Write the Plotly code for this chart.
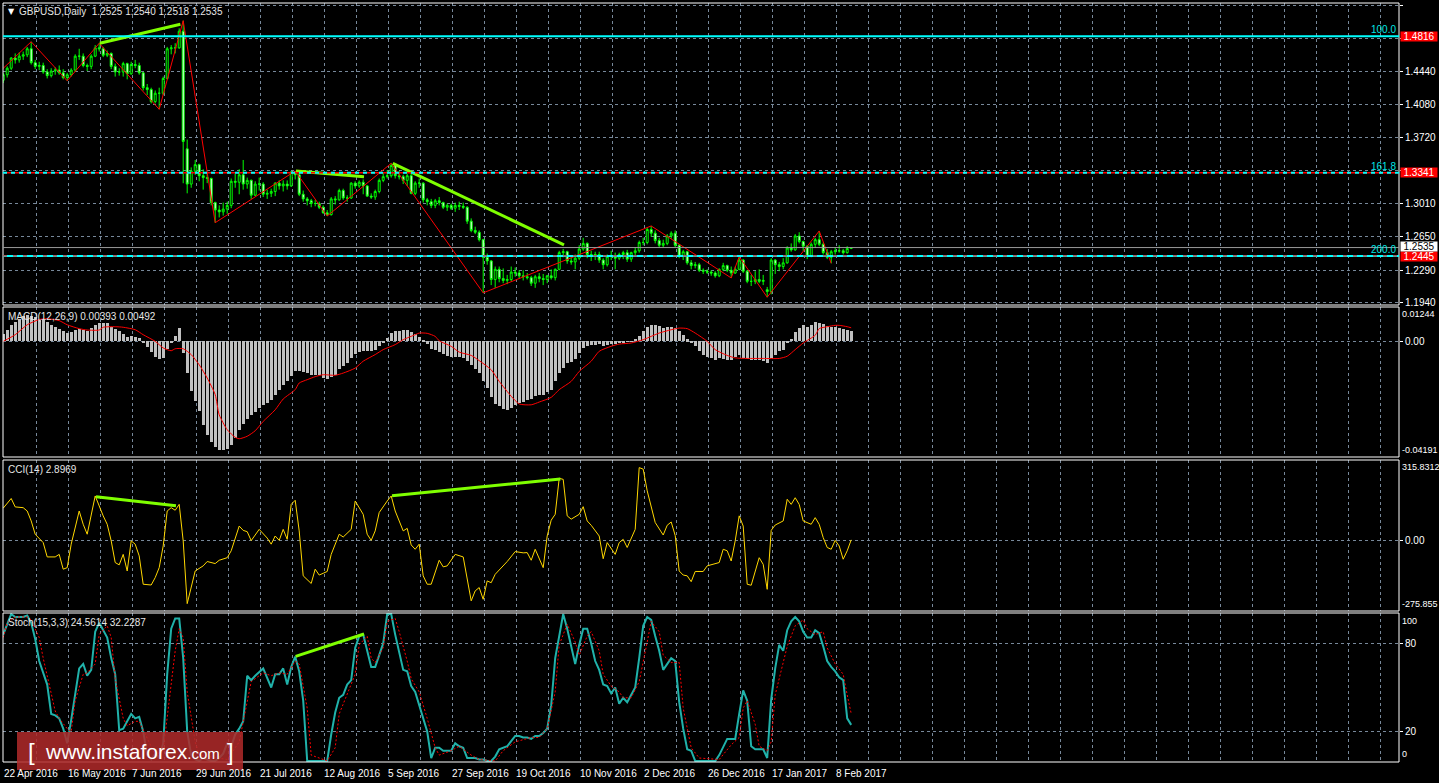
import plotly.graph_objects as go

# ------------------------------------------------------------------ data
date_labels = ["22 Apr 2016", "16 May 2016", "7 Jun 2016", "29 Jun 2016", "21 Jul 2016",
               "12 Aug 2016", "5 Sep 2016", "27 Sep 2016", "19 Oct 2016", "10 Nov 2016",
               "2 Dec 2016", "26 Dec 2016", "17 Jan 2017", "8 Feb 2017"]
date_label_bars = [0, 16, 32, 48, 64, 80, 96, 112, 128, 144, 160, 176, 192, 208]

opens = [1.4340,1.4400,1.4470,1.4580,1.4560,1.4600,1.4615,1.4680,1.4530,1.4490,
         1.4500,1.4430,1.4390,1.4440,1.4450,1.4420,1.4370,1.4400,1.4450,1.4600,
         1.4600,1.4500,1.4490,1.4600,1.4690,1.4680,1.4610,1.4630,1.4490,1.4430,
         1.4430,1.4520,1.4410,1.4510,1.4500,1.4420,1.4260,1.4240,1.4110,1.4200,
         1.4200,1.4360,1.4680,1.4690,1.4690,1.4870,1.3600,1.3220,1.3360,1.3430,
         1.3310,1.3290,1.3280,1.3020,1.2940,1.2920,1.2950,1.2990,1.3250,1.3240,
         1.3320,1.3220,1.3260,1.3100,1.3220,1.3220,1.3110,1.3120,1.3140,1.3230,
         1.3200,1.3220,1.3200,1.3350,1.3320,1.3110,1.3060,1.3040,1.3010,1.3010,
         1.2970,1.2910,1.2890,1.3060,1.3050,1.3150,1.3070,1.3070,1.3230,1.3200,
         1.3240,1.3200,1.3090,1.3080,1.3140,1.3260,1.3300,1.3310,1.3420,1.3310,
         1.3300,1.3260,1.3310,1.3120,1.3230,1.3230,1.3050,1.3030,1.2990,1.3040,
         1.3020,1.2970,1.2990,1.2960,1.2990,1.2980,1.2970,1.2820,1.2720,1.2700,
         1.2620,1.2430,1.2390,1.2190,1.2300,1.2200,1.2180,1.2190,1.2270,1.2260,
         1.2230,1.2220,1.2210,1.2150,1.2220,1.2200,1.2190,1.2230,1.2210,1.2300,
         1.2480,1.2490,1.2390,1.2380,1.2420,1.2520,1.2580,1.2460,1.2450,1.2460,
         1.2400,1.2350,1.2440,1.2450,1.2420,1.2460,1.2480,1.2410,1.2480,1.2500,
         1.2590,1.2590,1.2730,1.2690,1.2610,1.2560,1.2580,1.2660,1.2690,1.2560,
         1.2440,1.2490,1.2370,1.2340,1.2350,1.2290,1.2280,1.2270,1.2260,1.2230,
         1.2300,1.2340,1.2290,1.2260,1.2300,1.2400,1.2280,1.2170,1.2170,1.2190,
         1.2170,1.2080,1.2060,1.2400,1.2350,1.2330,1.2370,1.2530,1.2510,1.2660,
         1.2600,1.2550,1.2440,1.2570,1.2620,1.2570,1.2480,1.2430,1.2490,1.2500,
         1.2500,1.2480,1.2525]
highs = [1.4420,1.4490,1.4590,1.4630,1.4640,1.4650,1.4700,1.4756,1.4560,1.4540,
         1.4530,1.4460,1.4470,1.4480,1.4500,1.4460,1.4420,1.4470,1.4620,1.4680,
         1.4630,1.4520,1.4620,1.4720,1.4739,1.4700,1.4660,1.4640,1.4520,1.4470,
         1.4540,1.4530,1.4540,1.4560,1.4530,1.4430,1.4300,1.4260,1.4230,1.4260,
         1.4380,1.4700,1.4720,1.4740,1.4900,1.4983,1.3700,1.3400,1.3480,1.3440,
         1.3380,1.3340,1.3290,1.3030,1.2990,1.3020,1.3030,1.3280,1.3330,1.3380,
         1.3480,1.3290,1.3270,1.3250,1.3290,1.3240,1.3160,1.3170,1.3240,1.3260,
         1.3260,1.3260,1.3361,1.3360,1.3340,1.3150,1.3080,1.3060,1.3050,1.3030,
         1.2990,1.2940,1.3080,1.3090,1.3170,1.3170,1.3100,1.3240,1.3250,1.3260,
         1.3270,1.3210,1.3120,1.3160,1.3280,1.3340,1.3370,1.3444,1.3430,1.3360,
         1.3320,1.3330,1.3330,1.3250,1.3280,1.3240,1.3070,1.3060,1.3060,1.3080,
         1.3030,1.3010,1.3010,1.3020,1.3030,1.3020,1.2980,1.2850,1.2760,1.2720,
         1.2630,1.2470,1.2400,1.2330,1.2330,1.2310,1.2240,1.2330,1.2320,1.2290,
         1.2290,1.2260,1.2230,1.2240,1.2260,1.2250,1.2240,1.2300,1.2310,1.2500,
         1.2520,1.2500,1.2440,1.2460,1.2560,1.2640,1.2590,1.2500,1.2490,1.2490,
         1.2420,1.2460,1.2500,1.2480,1.2480,1.2500,1.2510,1.2490,1.2540,1.2610,
         1.2640,1.2750,1.2768,1.2720,1.2640,1.2620,1.2680,1.2710,1.2720,1.2570,
         1.2510,1.2500,1.2400,1.2380,1.2370,1.2310,1.2300,1.2290,1.2280,1.2310,
         1.2370,1.2350,1.2330,1.2330,1.2436,1.2410,1.2290,1.2240,1.2280,1.2300,
         1.2240,1.2110,1.2420,1.2410,1.2380,1.2420,1.2550,1.2580,1.2680,1.2700,
         1.2610,1.2560,1.2590,1.2640,1.2714,1.2590,1.2520,1.2510,1.2540,1.2560,
         1.2520,1.2550,1.2540]
lows = [1.4310,1.4370,1.4450,1.4520,1.4530,1.4560,1.4590,1.4510,1.4460,1.4450,
        1.4410,1.4360,1.4370,1.4400,1.4400,1.4350,1.4335,1.4380,1.4430,1.4560,
        1.4480,1.4440,1.4460,1.4590,1.4650,1.4590,1.4590,1.4460,1.4380,1.4390,
        1.4380,1.4350,1.4400,1.4470,1.4400,1.4230,1.4180,1.4090,1.4090,1.4027,
        1.4180,1.4350,1.4620,1.4630,1.4680,1.3229,1.3120,1.3180,1.3320,1.3250,
        1.3160,1.3230,1.2990,1.2803,1.2860,1.2880,1.2900,1.2960,1.3180,1.3110,
        1.3160,1.3170,1.3060,1.3090,1.3150,1.3080,1.3060,1.3080,1.3090,1.3160,
        1.3140,1.3160,1.3190,1.3270,1.3090,1.3030,1.2990,1.2970,1.2980,1.2950,
        1.2900,1.2875,1.2880,1.3000,1.3040,1.3050,1.3030,1.3060,1.3170,1.3180,
        1.3110,1.3080,1.3060,1.3050,1.3120,1.3240,1.3280,1.3290,1.3280,1.3270,
        1.3220,1.3200,1.3110,1.3100,1.3180,1.3020,1.2990,1.2960,1.2960,1.2990,
        1.2950,1.2930,1.2940,1.2920,1.2940,1.2950,1.2790,1.2700,1.2680,1.2600,
        1.2046,1.2350,1.2130,1.2100,1.2160,1.2150,1.2140,1.2170,1.2220,1.2200,
        1.2180,1.2190,1.2120,1.2100,1.2160,1.2130,1.2150,1.2190,1.2180,1.2290,
        1.2430,1.2360,1.2350,1.2300,1.2400,1.2500,1.2420,1.2390,1.2400,1.2370,
        1.2300,1.2330,1.2400,1.2300,1.2400,1.2410,1.2380,1.2380,1.2440,1.2480,
        1.2560,1.2570,1.2650,1.2580,1.2540,1.2540,1.2560,1.2630,1.2540,1.2420,
        1.2400,1.2350,1.2300,1.2310,1.2270,1.2250,1.2250,1.2230,1.2210,1.2215,
        1.2280,1.2270,1.2207,1.2250,1.2290,1.2260,1.2150,1.2120,1.2140,1.2150,
        1.2130,1.1999,1.2030,1.2250,1.2280,1.2300,1.2360,1.2490,1.2500,1.2580,
        1.2500,1.2410,1.2430,1.2530,1.2550,1.2460,1.2410,1.2365,1.2460,1.2480,
        1.2460,1.2470,1.2518]
closes = [1.4400,1.4470,1.4580,1.4560,1.4600,1.4615,1.4680,1.4530,1.4490,1.4500,
          1.4430,1.4390,1.4440,1.4450,1.4420,1.4370,1.4400,1.4450,1.4600,1.4600,
          1.4500,1.4490,1.4600,1.4690,1.4680,1.4610,1.4630,1.4490,1.4430,1.4430,
          1.4520,1.4410,1.4510,1.4500,1.4420,1.4260,1.4240,1.4110,1.4200,1.4200,
          1.4360,1.4680,1.4690,1.4690,1.4870,1.3680,1.3220,1.3360,1.3430,1.3310,
          1.3290,1.3280,1.3020,1.2940,1.2920,1.2950,1.2990,1.3250,1.3240,1.3320,
          1.3220,1.3260,1.3100,1.3220,1.3220,1.3110,1.3120,1.3140,1.3230,1.3200,
          1.3220,1.3200,1.3350,1.3320,1.3110,1.3060,1.3040,1.3010,1.3010,1.2970,
          1.2910,1.2890,1.3060,1.3050,1.3150,1.3070,1.3070,1.3230,1.3200,1.3240,
          1.3200,1.3090,1.3080,1.3140,1.3260,1.3300,1.3310,1.3420,1.3310,1.3300,
          1.3260,1.3310,1.3120,1.3230,1.3230,1.3050,1.3030,1.2990,1.3040,1.3020,
          1.2970,1.2990,1.2960,1.2990,1.2980,1.2970,1.2820,1.2720,1.2700,1.2620,
          1.2430,1.2390,1.2190,1.2300,1.2200,1.2180,1.2190,1.2270,1.2260,1.2230,
          1.2220,1.2210,1.2150,1.2220,1.2200,1.2190,1.2230,1.2210,1.2300,1.2480,
          1.2490,1.2390,1.2380,1.2420,1.2520,1.2580,1.2460,1.2450,1.2460,1.2400,
          1.2350,1.2440,1.2450,1.2420,1.2460,1.2480,1.2410,1.2480,1.2500,1.2590,
          1.2590,1.2730,1.2690,1.2610,1.2560,1.2580,1.2660,1.2690,1.2560,1.2440,
          1.2490,1.2370,1.2340,1.2350,1.2290,1.2280,1.2270,1.2260,1.2230,1.2300,
          1.2340,1.2290,1.2260,1.2300,1.2400,1.2280,1.2170,1.2170,1.2190,1.2170,
          1.2180,1.2060,1.2400,1.2350,1.2330,1.2370,1.2530,1.2510,1.2660,1.2600,
          1.2550,1.2440,1.2570,1.2620,1.2570,1.2480,1.2430,1.2490,1.2500,1.2500,
          1.2480,1.2525,1.2535]
bars = list(range(len(closes)))

zigzag_bars = [0, 7, 16, 24, 39, 45, 53, 73, 81, 97, 120, 162, 182, 184, 191, 204, 207]
zigzag_prices = [1.4469, 1.4756, 1.4335, 1.4739, 1.4027, 1.4983, 1.2803, 1.3361, 1.2875,
                 1.3444, 1.2046, 1.2768, 1.2207, 1.2436, 1.1999, 1.2714, 1.2365]

fib_levels = [1.4816, 1.3341, 1.2445]
fib_names = ["100.0", "161.8", "200.0"]
fib_price_text = ["1.4816", "1.3341", "1.2445"]
bid_price = 1.2535
bid_text = "1.2535"

price_ticks = [1.5150, 1.4795, 1.4440, 1.4080, 1.3720, 1.3365, 1.3010, 1.2650, 1.2290, 1.1940]
price_tick_text = ["1.5150", "", "1.4440", "1.4080", "1.3720", "", "1.3010", "1.2650", "1.2290", "1.1940"]

price_trend_x = [[24.15, 44.3], [73.2, 90.2], [97.4, 140.2]]
price_trend_y = [[1.4739, 1.4944], [1.3361, 1.3300], [1.3444, 1.2563]]

macd_hist = [0.0027,0.0042,0.0058,0.0070,0.0082,0.0091,0.0094,0.0091,0.0087,0.0082,
             0.0077,0.0070,0.0060,0.0053,0.0046,0.0039,0.0031,0.0034,0.0041,0.0043,
             0.0041,0.0039,0.0048,0.0060,0.0065,0.0068,0.0065,0.0053,0.0046,0.0036,
             0.0027,0.0014,0.0019,0.0017,0.0012,-0.0007,-0.0019,-0.0039,-0.0056,-0.0065,
             -0.0060,-0.0027,-0.0005,0.0019,0.0048,-0.0042,-0.0115,-0.0181,-0.0217,-0.0254,
             -0.0302,-0.0338,-0.0365,-0.0384,-0.0393,-0.0393,-0.0389,-0.0374,-0.0350,-0.0320,
             -0.0300,-0.0280,-0.0268,-0.0256,-0.0242,-0.0230,-0.0223,-0.0211,-0.0196,-0.0176,
             -0.0159,-0.0145,-0.0126,-0.0106,-0.0109,-0.0111,-0.0115,-0.0121,-0.0123,-0.0123,
             -0.0133,-0.0135,-0.0128,-0.0121,-0.0101,-0.0091,-0.0077,-0.0060,-0.0046,-0.0039,
             -0.0036,-0.0036,-0.0036,-0.0031,-0.0016,-0.0003,0.0012,0.0031,0.0039,0.0039,
             0.0040,0.0041,0.0034,0.0027,0.0014,0.0002,-0.0010,-0.0027,-0.0033,-0.0039,
             -0.0046,-0.0054,-0.0056,-0.0056,-0.0058,-0.0060,-0.0072,-0.0085,-0.0099,-0.0116,
             -0.0143,-0.0169,-0.0203,-0.0227,-0.0236,-0.0244,-0.0248,-0.0242,-0.0230,-0.0223,
             -0.0220,-0.0211,-0.0208,-0.0199,-0.0193,-0.0193,-0.0184,-0.0175,-0.0145,-0.0115,
             -0.0097,-0.0079,-0.0075,-0.0063,-0.0042,-0.0024,-0.0018,-0.0012,-0.0012,-0.0010,
             -0.0016,-0.0012,-0.0010,-0.0010,-0.0006,-0.0006,-0.0002,-0.0002,0.0010,0.0018,
             0.0039,0.0051,0.0058,0.0058,0.0054,0.0048,0.0053,0.0053,0.0048,0.0036,
             0.0022,0.0007,-0.0006,-0.0018,-0.0034,-0.0048,-0.0056,-0.0060,-0.0068,-0.0060,
             -0.0063,-0.0066,-0.0068,-0.0058,-0.0051,-0.0060,-0.0063,-0.0066,-0.0066,-0.0066,
             -0.0070,-0.0080,-0.0060,-0.0051,-0.0036,-0.0030,-0.0007,0.0010,0.0034,0.0048,
             0.0058,0.0051,0.0060,0.0070,0.0066,0.0063,0.0056,0.0053,0.0053,0.0048,
             0.0046,0.0042,0.0039]
macd_signal_bars = [0,3,6,9,11,14,16,19,21,24,25,28,30,33,35,38,40,42,43,45,47,49,51,53,54,
                    56,58,59,61,63,65,68,70,73,74,76,78,80,83,85,88,90,93,95,98,100,103,104,
                    106,108,109,112,114,117,119,122,124,127,129,132,134,137,139,142,144,147,
                    149,152,154,157,160,162,164,167,169,171,173,176,178,181,183,186,190,194,
                    196,198,200,203,204,206,208,209,211,212]
macd_signal = [0.0000,0.0024,0.0060,0.0079,0.0082,0.0075,0.0060,0.0046,0.0041,0.0041,0.0051,
               0.0053,0.0051,0.0042,0.0024,0.0000,-0.0024,-0.0034,-0.0027,-0.0027,-0.0048,
               -0.0085,-0.0133,-0.0193,-0.0266,-0.0320,-0.0348,-0.0353,-0.0344,-0.0324,-0.0290,
               -0.0248,-0.0209,-0.0175,-0.0151,-0.0139,-0.0128,-0.0121,-0.0123,-0.0115,-0.0097,
               -0.0072,-0.0048,-0.0030,-0.0012,0.0006,0.0024,0.0030,0.0029,0.0018,0.0002,
               -0.0018,-0.0039,-0.0051,-0.0070,-0.0103,-0.0145,-0.0199,-0.0227,-0.0230,-0.0220,
               -0.0203,-0.0175,-0.0145,-0.0109,-0.0072,-0.0036,-0.0018,-0.0010,-0.0006,0.0006,
               0.0018,0.0030,0.0042,0.0048,0.0046,0.0030,0.0000,-0.0030,-0.0051,-0.0060,
               -0.0062,-0.0062,-0.0062,-0.0054,-0.0030,-0.0006,0.0022,0.0046,0.0053,0.0058,
               0.0058,0.0053,0.0049]

cci_bars = [0,2,3,5,6,7,8,10,11,13,14,15,16,17,19,20,21,23,25,26,27,28,29,30,31,32,33,34,35,37,
            38,39,40,41,42,43,44,45,46,47,48,50,51,53,54,56,57,59,60,61,62,64,65,66,67,68,69,70,
            71,72,73,74,75,77,78,79,80,81,82,84,85,87,88,90,91,92,93,94,96,97,98,100,101,102,103,
            104,105,106,107,108,109,110,111,113,115,117,118,119,120,121,122,123,125,126,128,130,
            131,132,133,135,136,137,138,139,140,141,142,144,145,146,147,148,149,150,151,153,154,
            155,156,158,159,160,161,163,165,166,167,168,169,170,171,172,173,175,176,179,180,181,
            182,183,184,185,186,187,189,190,191,192,193,195,196,197,198,199,200,202,203,204,205,
            206,207,208,209,210,211,212]
cci = [127,165,132,129,116,77,25,-8,-64,-64,-54,-112,-106,-14,116,64,25,175,97,64,-1,-86,-95,-54,
       -119,-1,-14,-60,-171,-174,-145,-106,-21,116,129,119,142,-1,-247,-178,-119,-99,-82,-90,-77,
       -67,-40,57,40,35,0,44,25,10,-14,18,1,44,5,142,158,38,-138,-168,-112,-135,-128,-121,-54,25,
       14,44,155,103,25,1,38,110,155,175,116,38,48,-17,-34,-14,-138,-171,-171,-119,-77,-103,-99,
       -54,-64,-236,-197,-184,-230,-158,-165,-132,-99,-82,-43,-48,-47,-77,-34,-106,18,80,103,244,
       240,97,84,103,133,77,60,40,18,-71,-8,-54,-8,5,-27,44,286,280,195,71,22,60,73,20,-119,-135,
       -138,-161,-121,-121,-99,-86,-34,-40,-80,-1,97,57,-171,-175,-67,-93,-191,40,61,77,162,142,
       168,142,77,64,90,64,12,-27,-34,1,-21,-73,-40,2.8969]
cci_trend_x = [[23.2, 43.2], [97.2, 139.3]]
cci_trend_y = [[172, 137], [176, 241]]

stoch_k_bars = [0,2,3,5,6,7,8,9,11,12,13,14,15,16,17,19,20,21,22,23,24,25,26,27,28,29,30,31,32,33,
                34,35,36,37,38,39,40,41,42,43,44,45,46,47,48,49,50,51,52,53,54,55,56,57,58,59,60,
                61,62,63,65,67,68,69,70,71,72,73,74,75,76,77,78,79,80,81,82,83,84,85,86,87,88,89,
                90,91,92,93,94,95,96,97,98,99,100,101,102,103,104,105,106,107,108,109,110,111,112,
                113,114,115,116,117,118,119,120,121,122,123,124,126,128,129,130,131,132,133,134,
                135,136,137,138,139,140,141,142,143,144,145,146,147,148,149,150,151,152,153,154,
                155,156,157,158,159,160,161,162,163,164,165,166,167,168,169,170,171,172,173,174,
                175,176,177,178,179,180,181,182,183,184,185,186,187,188,189,190,191,192,193,194,
                195,196,197,198,199,200,201,202,203,204,205,206,207,208,209,210,211,212]
stoch_k = [86,100,98,98,99,94,83,68,52,32,31,29,22,12,28,63,66,58,62,88,94,89,84,70,59,21,22,27,
           32,29,30,20,4,1,5,2,12,59,90,97,97,70,20,4,1,0,2,1,0,0,2,5,12,10,18,22,27,58,55,58,63,
           50,59,59,63,52,64,71,61,41,0,0,0,0,0,0,18,33,43,45,52,55,77,85,86,75,64,64,72,80,100,
           100,86,75,62,61,51,47,38,28,20,2,9,9,7,7,7,12,10,9,2,2,2,1,1,0,0,3,8,10,17,17,16,16,15,
           17,17,19,22,38,70,85,100,90,78,66,79,90,90,80,68,62,52,51,46,50,39,43,40,45,50,70,92,
           98,96,85,75,62,66,70,68,40,22,8,7,0,0,0,0,0,0,4,10,15,15,15,32,48,41,10,8,8,8,2,42,63,
           79,75,89,95,98,95,88,84,84,89,87,78,68,64,61,57,55,29,24.5614]
stoch_d_bars = [0,1,3,6,7,9,10,12,13,14,16,17,18,20,21,23,24,26,27,28,30,31,33,34,36,38,40,41,43,
                44,45,46,48,49,56,59,61,62,65,67,69,71,73,74,76,77,81,83,84,86,88,89,91,92,93,95,
                96,98,99,101,102,104,106,108,109,112,114,117,119,123,125,128,132,134,136,138,139,
                141,143,144,146,147,149,150,152,154,155,157,159,161,162,164,165,167,169,170,172,
                174,179,182,184,185,186,188,189,191,192,193,195,196,198,200,201,203,205,206,208,
                210,211,212]
stoch_d = [84,94,98,98,96,84,70,45,34,29,22,20,41,59,60,66,86,92,84,56,29,24,27,27,16,4,7,29,75,
           90,84,47,13,4,1,13,41,54,60,58,60,59,68,66,36,4,0,9,32,45,59,79,85,70,67,77,95,97,88,
           68,56,47,29,9,4,7,10,4,1,0,7,13,16,16,22,47,79,93,81,72,85,88,75,59,51,47,43,43,54,81,
           95,88,72,67,67,36,9,2,1,11,16,36,41,25,10,7,13,45,66,78,92,96,90,86,88,77,66,59,45,
           32.2287]
stoch_trend_x = [[73.1, 90.2]]
stoch_trend_y = [[71.2, 86.4]]

# ------------------------------------------------------------------ geometry / style
W, H = 1439, 783
ML, MR, MT, MB = 3, 40, 3, 21
PW, PH = W - ML - MR, H - MT - MB
BOTTOM = H - MB


def px_x(xp):
    return (xp - ML) / PW


def px_y(yp):
    return (BOTTOM - yp) / PH


panels = {"y": (3, 305), "y2": (307, 457), "y3": (460, 611), "y4": (613, 762)}
GRID = "#77889a"
LIME = "#00FF00"
TREND = "#7FFF00"
CYAN = "#00FFFF"
FONT = "Liberation Sans"
XR = [-0.05, 348.95]
grid_x = [8 * k + 0.25 for k in range(1, 44)]

fig = go.Figure()

# price panel
fig.add_trace(go.Candlestick(
    x=bars, open=opens, high=highs, low=lows, close=closes,
    increasing=dict(line=dict(color=LIME, width=1), fillcolor="#000000"),
    decreasing=dict(line=dict(color=LIME, width=1), fillcolor="#FFFFFF"),
    whiskerwidth=0, hoverinfo="skip", showlegend=False, xaxis="x", yaxis="y"))
fig.add_trace(go.Scatter(x=zigzag_bars, y=zigzag_prices, mode="lines",
                         line=dict(color="#FF0000", width=1), hoverinfo="skip",
                         showlegend=False, xaxis="x", yaxis="y"))
for tx, ty in zip(price_trend_x, price_trend_y):
    fig.add_trace(go.Scatter(x=tx, y=ty, mode="lines", line=dict(color=TREND, width=3),
                             hoverinfo="skip", showlegend=False, xaxis="x", yaxis="y"))

# MACD panel
fig.add_trace(go.Bar(x=bars, y=macd_hist, width=0.72, marker=dict(color="#C0C0C0", line=dict(width=0)),
                     hoverinfo="skip", showlegend=False, xaxis="x2", yaxis="y2"))
fig.add_trace(go.Scatter(x=macd_signal_bars, y=macd_signal, mode="lines",
                         line=dict(color="#FF0000", width=1, shape="spline", smoothing=0.6),
                         hoverinfo="skip", showlegend=False, xaxis="x2", yaxis="y2"))

# CCI panel
fig.add_trace(go.Scatter(x=cci_bars, y=cci, mode="lines", line=dict(color="#FFD700", width=1),
                         hoverinfo="skip", showlegend=False, xaxis="x3", yaxis="y3"))
for tx, ty in zip(cci_trend_x, cci_trend_y):
    fig.add_trace(go.Scatter(x=tx, y=ty, mode="lines", line=dict(color=TREND, width=3),
                             hoverinfo="skip", showlegend=False, xaxis="x3", yaxis="y3"))

# Stochastic panel
fig.add_trace(go.Scatter(x=stoch_k_bars, y=stoch_k, mode="lines", line=dict(color="#20B2AA", width=2),
                         hoverinfo="skip", showlegend=False, xaxis="x4", yaxis="y4"))
fig.add_trace(go.Scatter(x=stoch_d_bars, y=stoch_d, mode="lines",
                         line=dict(color="#FF0000", width=1, dash="2px,2px"),
                         hoverinfo="skip", showlegend=False, xaxis="x4", yaxis="y4"))
for tx, ty in zip(stoch_trend_x, stoch_trend_y):
    fig.add_trace(go.Scatter(x=tx, y=ty, mode="lines", line=dict(color=TREND, width=3),
                             hoverinfo="skip", showlegend=False, xaxis="x4", yaxis="y4"))

# ------------------------------------------------------------------ axes
tickfont = dict(family=FONT, size=10, color="#FFFFFF")
edgefont = dict(family=FONT, size=9, color="#FFFFFF")
layout_axes = {}
names = ["y", "y2", "y3", "y4"]
for n, yn in enumerate(names):
    xk = "xaxis" if n == 0 else f"xaxis{n + 1}"
    layout_axes[xk] = dict(
        domain=[0, 1], range=XR, anchor=yn, tickmode="array", tickvals=grid_x,
        showticklabels=False, ticks="", showgrid=True, gridcolor=GRID, griddash="3px,3px",
        gridwidth=1, zeroline=False, showline=False, fixedrange=True,
        rangeslider=dict(visible=False))
    if n > 0:
        layout_axes[xk]["matches"] = "x"

y_specs = {
    "y": dict(range=[1.1915, 1.5174], tickvals=price_ticks, ticktext=price_tick_text),
    "y2": dict(range=[-0.04191, 0.01244], tickvals=[0], ticktext=["0.00"]),
    "y3": dict(range=[-275.855, 315.8312], tickvals=[0], ticktext=["0.00"]),
    "y4": dict(range=[-0.7, 100.7], tickvals=[20, 80], ticktext=["20", "80"]),
}
for n, yn in enumerate(names):
    yk = "yaxis" if n == 0 else f"yaxis{n + 1}"
    top, bot = panels[yn]
    xa = "x" if n == 0 else f"x{n + 1}"
    spec = y_specs[yn]
    layout_axes[yk] = dict(
        domain=[px_y(bot), px_y(top)], range=spec["range"], anchor=xa, side="right",
        tickmode="array", tickvals=spec["tickvals"], ticktext=spec["ticktext"],
        showgrid=True, gridcolor=GRID, griddash="3px,3px", gridwidth=1,
        ticks="outside", ticklen=3, tickcolor="#FFFFFF", tickfont=tickfont,
        zeroline=False, showline=False, fixedrange=True)

# ------------------------------------------------------------------ shapes
shapes = []
for yn in names:
    top, bot = panels[yn]
    shapes.append(dict(type="rect", xref="paper", yref="paper", x0=0, x1=1,
                       y0=px_y(bot), y1=px_y(top), line=dict(color="#FFFFFF", width=1),
                       fillcolor="rgba(0,0,0,0)", layer="above"))
# bid line
shapes.append(dict(type="line", xref="x domain", yref="y", x0=0, x1=1, y0=bid_price, y1=bid_price,
                   line=dict(color="#9A9A9A", width=1), layer="above"))
# fibo expansion levels
shapes.append(dict(type="line", xref="x domain", yref="y", x0=0, x1=1, y0=fib_levels[0], y1=fib_levels[0],
                   line=dict(color=CYAN, width=2), layer="above"))
shapes.append(dict(type="line", xref="x domain", yref="y", x0=0, x1=1, y0=fib_levels[1], y1=fib_levels[1],
                   line=dict(color="#FF0000", width=1.5), layer="above"))
shapes.append(dict(type="line", xref="x domain", yref="y", x0=0, x1=1, y0=fib_levels[1], y1=fib_levels[1],
                   line=dict(color=CYAN, width=2, dash="4px,4px"), layer="above"))
shapes.append(dict(type="line", xref="x domain", yref="y", x0=0, x1=1, y0=fib_levels[2], y1=fib_levels[2],
                   line=dict(color=CYAN, width=2), layer="above"))
shapes.append(dict(type="line", xref="x domain", yref="y", x0=0, x1=1, y0=fib_levels[2], y1=fib_levels[2],
                   line=dict(color="#FF0000", width=1, dash="4px,6px"), layer="above"))
# watermark box
shapes.append(dict(type="rect", xref="paper", yref="paper", x0=px_x(17), x1=px_x(243),
                   y0=px_y(770), y1=px_y(732), line=dict(width=0),
                   fillcolor="rgba(176,42,42,0.86)", layer="above"))

# ------------------------------------------------------------------ annotations
ann = []
lab_font = dict(family=FONT, size=10, color="#E6E6E6")
# header
ann.append(dict(xref="paper", yref="paper", x=px_x(6), y=px_y(5), xanchor="left", yanchor="top",
                text="▼", showarrow=False, font=dict(family="DejaVu Sans", size=8, color="#FFFFFF")))
ann.append(dict(xref="paper", yref="paper", x=px_x(17), y=px_y(4), xanchor="left", yanchor="top",
                text="GBPUSD,Daily  1.2525 1.2540 1.2518 1.2535", showarrow=False, font=lab_font))
ann.append(dict(xref="paper", yref="paper", x=px_x(6), y=px_y(309), xanchor="left", yanchor="top",
                text="MACD(12,26,9) 0.00393 0.00492", showarrow=False, font=lab_font))
ann.append(dict(xref="paper", yref="paper", x=px_x(6), y=px_y(462), xanchor="left", yanchor="top",
                text="CCI(14) 2.8969", showarrow=False, font=lab_font))
ann.append(dict(xref="paper", yref="paper", x=px_x(6), y=px_y(615), xanchor="left", yanchor="top",
                text="Stoch(15,3,3) 24.5614 32.2287", showarrow=False, font=lab_font))

# edge scale labels
edge = [("y2", 0.01244, "0.01244", "top"), ("y2", -0.04191, "-0.04191", "bottom"),
        ("y3", 315.8312, "315.8312", "top"), ("y3", -275.855, "-275.855", "bottom"),
        ("y4", 100, "100", "top"), ("y4", 0, "0", "bottom")]
for yr, val, txt, anc in edge:
    ann.append(dict(xref="paper", yref=yr, x=1, y=val, xanchor="left", yanchor=anc, xshift=1,
                    text=txt, showarrow=False, font=edgefont))

# fib level names & price boxes
box_shift = [0, 0, -0.5]
for lvl, nm, pt, sh in zip(fib_levels, fib_names, fib_price_text, box_shift):
    ann.append(dict(xref="paper", yref="y", x=1, y=lvl, xanchor="right", yanchor="bottom", xshift=-1,
                    yshift=-1, text=nm, showarrow=False,
                    font=dict(family=FONT, size=10, color="#00E5E5")))
    ann.append(dict(xref="paper", yref="y", x=1, y=lvl, xanchor="left", yanchor="middle", xshift=1,
                    yshift=sh, text=pt, showarrow=False, bgcolor="#FF0000", borderpad=0, width=36,
                    height=9, align="center", valign="middle",
                    font=dict(family=FONT, size=10, color="#FFFFFF")))
ann.append(dict(xref="paper", yref="y", x=1, y=bid_price, xanchor="left", yanchor="middle", xshift=1,
                yshift=1.5, text=bid_text, showarrow=False, bgcolor="#FFFFFF", borderpad=0, width=36,
                height=9, align="center", valign="middle",
                font=dict(family=FONT, size=10, color="#000000")))

# date labels
for b, d in zip(date_label_bars, date_labels):
    ann.append(dict(xref="x4", yref="paper", x=b, y=0, xanchor="left", yanchor="top", yshift=-4,
                    xshift=-1, text=d, showarrow=False, font=tickfont))

# watermark text
ann.append(dict(xref="paper", yref="paper", x=px_x(26), y=px_y(751), xanchor="left", yanchor="middle",
                text="[", showarrow=False, font=dict(family=FONT, size=24, color="#FFFFFF")))
ann.append(dict(xref="paper", yref="paper", x=px_x(43), y=px_y(751), xanchor="left", yanchor="middle",
                text="www.instaforex<span style='font-size:15px'>.com</span>", showarrow=False,
                font=dict(family=FONT, size=21, color="#FFFFFF")))
ann.append(dict(xref="paper", yref="paper", x=px_x(225), y=px_y(751), xanchor="left", yanchor="middle",
                text="]", showarrow=False, font=dict(family=FONT, size=24, color="#FFFFFF")))

fig.update_layout(
    width=W, height=H, margin=dict(l=ML, r=MR, t=MT, b=MB, pad=0),
    paper_bgcolor="#000000", plot_bgcolor="#000000", showlegend=False,
    hovermode=False, dragmode=False, bargap=0, font=dict(family=FONT, color="#FFFFFF"),
    shapes=shapes, annotations=ann, **layout_axes)

fig.write_html("out.html", config={"displayModeBar": False},
               post_script="document.body.style.margin='0';document.body.style.padding='0';"
                           "document.body.style.overflow='hidden';"
                           "document.documentElement.style.overflow='hidden';")
